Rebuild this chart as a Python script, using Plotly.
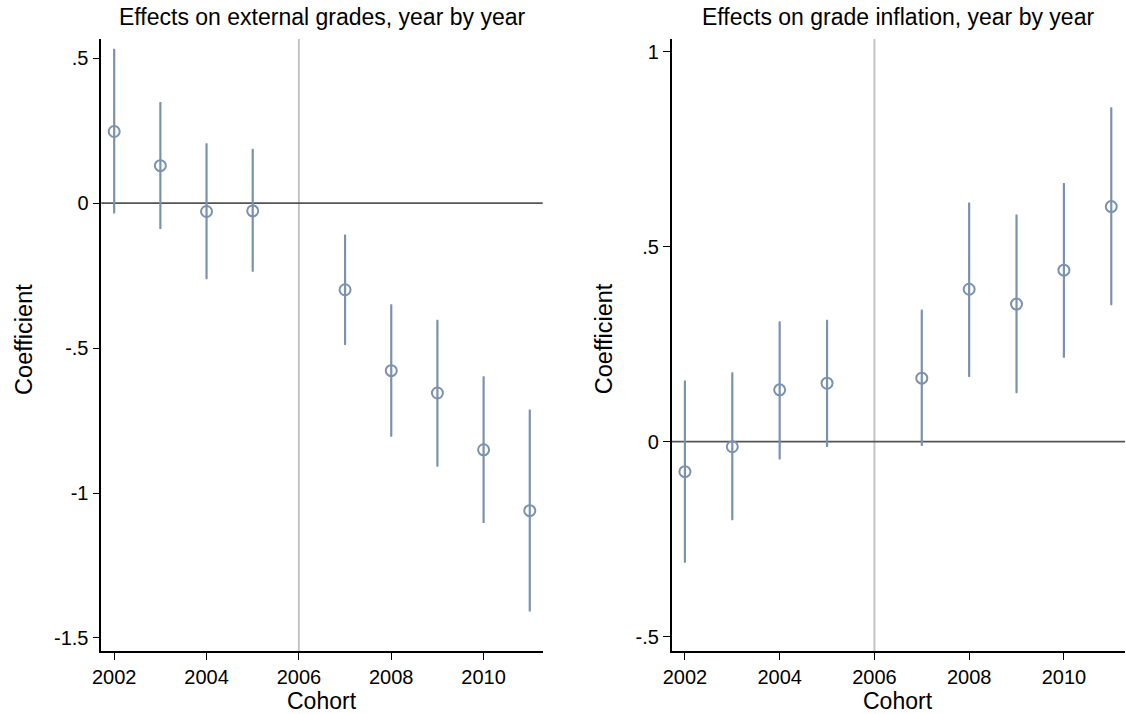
import plotly.graph_objects as go

# ---------------- data ----------------
cohorts = [2002, 2003, 2004, 2005, 2007, 2008, 2009, 2010, 2011]

ext_coef = [0.247, 0.129, -0.029, -0.027, -0.299, -0.578, -0.655, -0.851, -1.061]
ext_hi = [0.529, 0.345, 0.203, 0.184, -0.112, -0.353, -0.406, -0.601, -0.716]
ext_lo = [-0.032, -0.086, -0.259, -0.233, -0.486, -0.802, -0.906, -1.100, -1.405]

inf_coef = [-0.077, -0.013, 0.133, 0.150, 0.163, 0.391, 0.353, 0.440, 0.603]
inf_hi = [0.154, 0.175, 0.306, 0.310, 0.336, 0.611, 0.580, 0.661, 0.855]
inf_lo = [-0.308, -0.199, -0.043, -0.011, -0.008, 0.169, 0.127, 0.218, 0.353]

x_ticks = [2002, 2004, 2006, 2008, 2010]
x_ticklabels = ["2002", "2004", "2006", "2008", "2010"]
ext_yticks = [0.5, 0, -0.5, -1, -1.5]
ext_yticklabels = [".5", "0", "-.5", "-1", "-1.5"]
inf_yticks = [1, 0.5, 0, -0.5]
inf_yticklabels = ["1", ".5", "0", "-.5"]

titles = ["Effects on external grades, year by year",
          "Effects on grade inflation, year by year"]
x_title = "Cohort"
y_title = "Coefficient"
reform_year = 2006
zero_value = 0

# ---------------- style ----------------
W, H = 1126, 714
MARK = "#7b92ad"
FONT = "Liberation Sans, Arial, sans-serif"

def px_x(p):
    return p / W

def px_y(p):
    return 1 - p / H

fig = go.Figure()

def add_panel(coef, hi, lo, xa, ya):
    plus = [h - c for h, c in zip(hi, coef)]
    minus = [c - l for c, l in zip(coef, lo)]
    fig.add_trace(go.Scatter(
        x=cohorts, y=coef, mode="markers", xaxis=xa, yaxis=ya,
        marker=dict(symbol="circle-open", size=11, color=MARK,
                    line=dict(width=2, color=MARK)),
        error_y=dict(type="data", symmetric=False, array=plus,
                     arrayminus=minus, color=MARK, thickness=2.2, width=1),
        showlegend=False, hoverinfo="x+y"))

add_panel(ext_coef, ext_hi, ext_lo, "x", "y")
add_panel(inf_coef, inf_hi, inf_lo, "x2", "y2")

ydom = [px_y(651), px_y(39)]
axis_common = dict(showgrid=False, zeroline=False, showline=True,
                   linecolor="black", linewidth=1.5, ticks="outside",
                   ticklen=7, tickwidth=1.2, tickcolor="black",
                   tickfont=dict(family=FONT, size=20, color="black"))

fig.update_layout(
    width=W, height=H, margin=dict(l=0, r=0, t=0, b=0),
    paper_bgcolor="white", plot_bgcolor="white",
    font=dict(family=FONT, color="black"),
    xaxis=dict(domain=[px_x(93), px_x(538)], range=[2001.72, 2011.28],
               tickvals=x_ticks, ticktext=x_ticklabels, anchor="y",
               **axis_common),
    yaxis=dict(domain=ydom, range=[-1.545, 0.566], tickvals=ext_yticks,
               ticktext=ext_yticklabels, anchor="x", **axis_common),
    xaxis2=dict(domain=[px_x(668), px_x(1125)], range=[2001.72, 2011.29],
                tickvals=x_ticks, ticktext=x_ticklabels, anchor="y2",
                **axis_common),
    yaxis2=dict(domain=ydom, range=[-0.537, 1.033], tickvals=inf_yticks,
                ticktext=inf_yticklabels, anchor="x2", **axis_common),
)

shapes = []
for xr, yr in (("x", "y"), ("x2", "y2")):
    shapes.append(dict(type="line", xref=xr, yref=yr + " domain",
                       x0=reform_year, x1=reform_year, y0=0, y1=1,
                       line=dict(color="#c4c4c4", width=2), layer="below"))
    shapes.append(dict(type="line", xref=xr + " domain", yref=yr,
                       x0=0, x1=1, y0=zero_value, y1=zero_value,
                       line=dict(color="#555555", width=1.6), layer="below"))
fig.update_layout(shapes=shapes)

ann = []
centers = [(93 + 538) / 2, (668 + 1125) / 2]
for c, t in zip(centers, titles):
    ann.append(dict(text=t, x=px_x(c), y=px_y(17), xref="paper", yref="paper",
                    showarrow=False, xanchor="center", yanchor="middle",
                    font=dict(family=FONT, size=23, color="black")))
    ann.append(dict(text=x_title, x=px_x(c), y=px_y(701), xref="paper",
                    yref="paper", showarrow=False, xanchor="center",
                    yanchor="middle",
                    font=dict(family=FONT, size=23, color="black")))
for xc in (15, 600):
    ann.append(dict(text=y_title, x=px_x(xc), y=px_y(339), xref="paper",
                    yref="paper", showarrow=False, textangle=-90,
                    xanchor="center", yanchor="middle",
                    font=dict(family=FONT, size=23.5, color="black")))
fig.update_layout(annotations=ann)

fig.write_html(
    "out.html",
    config={"displayModeBar": False},
    post_script="document.body.style.margin='0px';"
                "document.body.style.overflow='hidden';",
)
